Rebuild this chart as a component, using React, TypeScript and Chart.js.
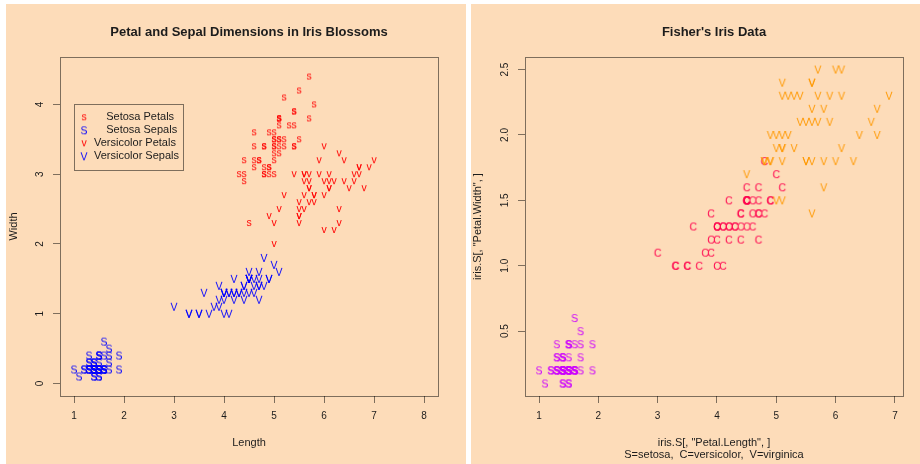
import React, { useEffect, useRef } from "react";
import { Chart, registerables } from "chart.js";

Chart.register(...registerables);

// ---------------- Data: Fisher's iris ----------------
const setosaSepalLength = [
  5.1, 4.9, 4.7, 4.6, 5.0, 5.4, 4.6, 5.0, 4.4, 4.9,
  5.4, 4.8, 4.8, 4.3, 5.8, 5.7, 5.4, 5.1, 5.7, 5.1,
  5.4, 5.1, 4.6, 5.1, 4.8, 5.0, 5.0, 5.2, 5.2, 4.7,
  4.8, 5.4, 5.2, 5.5, 4.9, 5.0, 5.5, 4.9, 4.4, 5.1,
  5.0, 4.5, 4.4, 5.0, 5.1, 4.8, 5.1, 4.6, 5.3, 5.0,
];
const setosaSepalWidth = [
  3.5, 3.0, 3.2, 3.1, 3.6, 3.9, 3.4, 3.4, 2.9, 3.1,
  3.7, 3.4, 3.0, 3.0, 4.0, 4.4, 3.9, 3.5, 3.8, 3.8,
  3.4, 3.7, 3.6, 3.3, 3.4, 3.0, 3.4, 3.5, 3.4, 3.2,
  3.1, 3.4, 4.1, 4.2, 3.1, 3.2, 3.5, 3.6, 3.0, 3.4,
  3.5, 2.3, 3.2, 3.5, 3.8, 3.0, 3.8, 3.2, 3.7, 3.3,
];
const setosaPetalLength = [
  1.4, 1.4, 1.3, 1.5, 1.4, 1.7, 1.4, 1.5, 1.4, 1.5,
  1.5, 1.6, 1.4, 1.1, 1.2, 1.5, 1.3, 1.4, 1.7, 1.5,
  1.7, 1.5, 1.0, 1.7, 1.9, 1.6, 1.6, 1.5, 1.4, 1.6,
  1.6, 1.5, 1.5, 1.4, 1.5, 1.2, 1.3, 1.4, 1.3, 1.5,
  1.3, 1.3, 1.3, 1.6, 1.9, 1.4, 1.6, 1.4, 1.5, 1.4,
];
const setosaPetalWidth = [
  0.2, 0.2, 0.2, 0.2, 0.2, 0.4, 0.3, 0.2, 0.2, 0.1,
  0.2, 0.2, 0.1, 0.1, 0.2, 0.4, 0.4, 0.3, 0.3, 0.3,
  0.2, 0.4, 0.2, 0.5, 0.2, 0.2, 0.4, 0.2, 0.2, 0.2,
  0.2, 0.4, 0.1, 0.2, 0.2, 0.2, 0.2, 0.1, 0.2, 0.2,
  0.3, 0.3, 0.2, 0.6, 0.4, 0.3, 0.2, 0.2, 0.2, 0.2,
];

const versicolorSepalLength = [
  7.0, 6.4, 6.9, 5.5, 6.5, 5.7, 6.3, 4.9, 6.6, 5.2,
  5.0, 5.9, 6.0, 6.1, 5.6, 6.7, 5.6, 5.8, 6.2, 5.6,
  5.9, 6.1, 6.3, 6.1, 6.4, 6.6, 6.8, 6.7, 6.0, 5.7,
  5.5, 5.5, 5.8, 6.0, 5.4, 6.0, 6.7, 6.3, 5.6, 5.5,
  5.5, 6.1, 5.8, 5.0, 5.6, 5.7, 5.7, 6.2, 5.1, 5.7,
];
const versicolorSepalWidth = [
  3.2, 3.2, 3.1, 2.3, 2.8, 2.8, 3.3, 2.4, 2.9, 2.7,
  2.0, 3.0, 2.2, 2.9, 2.9, 3.1, 3.0, 2.7, 2.2, 2.5,
  3.2, 2.8, 2.5, 2.8, 2.9, 3.0, 2.8, 3.0, 2.9, 2.6,
  2.4, 2.4, 2.7, 2.7, 3.0, 3.4, 3.1, 2.3, 3.0, 2.5,
  2.6, 3.0, 2.6, 2.3, 2.7, 3.0, 2.9, 2.9, 2.5, 2.8,
];
const versicolorPetalLength = [
  4.7, 4.5, 4.9, 4.0, 4.6, 4.5, 4.7, 3.3, 4.6, 3.9,
  3.5, 4.2, 4.0, 4.7, 3.6, 4.4, 4.5, 4.1, 4.5, 3.9,
  4.8, 4.0, 4.9, 4.7, 4.3, 4.4, 4.8, 5.0, 4.5, 3.5,
  3.8, 3.7, 3.9, 5.1, 4.5, 4.5, 4.7, 4.4, 4.1, 4.0,
  4.4, 4.6, 4.0, 3.3, 4.2, 4.2, 4.2, 4.3, 3.0, 4.1,
];
const versicolorPetalWidth = [
  1.4, 1.5, 1.5, 1.3, 1.5, 1.3, 1.6, 1.0, 1.3, 1.4,
  1.0, 1.5, 1.0, 1.4, 1.3, 1.4, 1.5, 1.0, 1.5, 1.1,
  1.8, 1.3, 1.5, 1.2, 1.3, 1.4, 1.4, 1.7, 1.5, 1.0,
  1.1, 1.0, 1.2, 1.6, 1.5, 1.6, 1.5, 1.3, 1.3, 1.3,
  1.2, 1.4, 1.2, 1.0, 1.3, 1.2, 1.3, 1.3, 1.1, 1.3,
];

const virginicaPetalLength = [
  6.0, 5.1, 5.9, 5.6, 5.8, 6.6, 4.5, 6.3, 5.8, 6.1,
  5.1, 5.3, 5.5, 5.0, 5.1, 5.3, 5.5, 6.7, 6.9, 5.0,
  5.7, 4.9, 6.7, 4.9, 5.7, 6.0, 4.8, 4.9, 5.6, 5.8,
  6.1, 6.4, 5.6, 5.1, 5.6, 6.1, 5.6, 5.5, 4.8, 5.4,
  5.6, 5.1, 5.1, 5.9, 5.7, 5.2, 5.0, 5.2, 5.4, 5.1,
];
const virginicaPetalWidth = [
  2.5, 1.9, 2.1, 1.8, 2.2, 2.1, 1.7, 1.8, 1.8, 2.5,
  2.0, 1.9, 2.1, 2.0, 2.4, 2.3, 1.8, 2.2, 2.3, 1.5,
  2.3, 2.0, 2.0, 1.8, 2.1, 1.8, 1.8, 1.8, 2.1, 1.6,
  1.9, 2.0, 2.2, 1.5, 1.4, 2.3, 2.4, 1.8, 1.8, 2.1,
  2.4, 2.3, 1.9, 2.3, 2.5, 2.3, 1.9, 2.0, 2.3, 1.8,
];

// ---------------- Axes / labels ----------------
const leftXLimits = [0.72, 8.28];
const leftYLimits = [-0.18, 4.68];
const leftXTicks = [1, 2, 3, 4, 5, 6, 7, 8];
const leftYTicks = [0, 1, 2, 3, 4];
const leftYTickLabels = ["0", "1", "2", "3", "4"];

const rightXLimits = [0.764, 7.136];
const rightYLimits = [0.004, 2.596];
const rightXTicks = [1, 2, 3, 4, 5, 6, 7];
const rightYTicks = [0.5, 1.0, 1.5, 2.0, 2.5];
const rightYTickLabels = ["0.5", "1.0", "1.5", "2.0", "2.5"];

const legendPosition = [1, 4];
const legendLabels = ["    Setosa Petals", "    Setosa Sepals", "Versicolor Petals", "Versicolor Sepals"];
const legendSymbols = ["s", "S", "v", "V"];

// ---------------- Styles ----------------
const FONT = '"Liberation Sans", Arial, Helvetica, sans-serif';
const BG = "#fddcb9";
const INK = "#1c1c1c";
const FRAME = "rgba(0,0,0,0.5)";
const RED = "#ff0000";
const BLUE = "#0000ff";
const S_COL = "#cc00ff";
const C_COL = "#ff004d";
const V_COL = "#ff9900";
const legendColors = [RED, BLUE, RED, BLUE];
const GLYPH_SIZE = 10.5;

function glyph(ch: string, color: string, size = GLYPH_SIZE): HTMLCanvasElement {
  const c = document.createElement("canvas");
  c.width = 16;
  c.height = 16;
  const g = c.getContext("2d")!;
  g.font = `${size}px ${FONT}`;
  g.fillStyle = color;
  g.textAlign = "center";
  g.textBaseline = "alphabetic";
  const m = g.measureText(ch);
  const asc = m.actualBoundingBoxAscent;
  const desc = m.actualBoundingBoxDescent;
  g.fillText(ch, 8, 8 + (asc - desc) / 2);
  return c;
}

function pts(xs: number[], ys: number[]) {
  return xs.map((v, i) => ({ x: v, y: ys[i] }));
}

const decor = {
  id: "decor",
  beforeDraw(chart: any) {
    const ctx = chart.ctx;
    ctx.save();
    ctx.fillStyle = BG;
    ctx.fillRect(0, 0, chart.width, chart.height);
    ctx.restore();
  },
  afterDraw(chart: any, _a: any, opts: any) {
    const ctx = chart.ctx as CanvasRenderingContext2D;
    const ca = chart.chartArea;
    const xs = chart.scales.x;
    const ys = chart.scales.y;
    ctx.save();
    // frame
    ctx.strokeStyle = FRAME;
    ctx.lineWidth = 1;
    const l = Math.round(ca.left), t = Math.round(ca.top);
    const r = Math.round(ca.right), b = Math.round(ca.bottom);
    ctx.strokeRect(l + 0.5, t + 0.5, r - l, b - t);

    const cx = (ca.left + ca.right) / 2;
    ctx.fillStyle = INK;
    ctx.textAlign = "center";
    ctx.textBaseline = "middle";
    // title
    ctx.font = `bold 13px ${FONT}`;
    ctx.fillText(opts.title, cx, opts.titleY);
    // x title
    ctx.font = `11px ${FONT}`;
    (opts.xTitle as string[]).forEach((s, i) => ctx.fillText(s, cx, opts.xTitleY + i * 12));
    // y title
    ctx.save();
    ctx.translate(opts.yTitleX, (ca.top + ca.bottom) / 2);
    ctx.rotate(-Math.PI / 2);
    ctx.fillText(opts.yTitle, 0, 0);
    ctx.restore();
    // y tick labels (rotated like R)
    ctx.font = `10px ${FONT}`;
    ys.ticks.forEach((tk: any) => {
      const py = ys.getPixelForValue(tk.value);
      ctx.save();
      ctx.translate(ca.left - 20, py);
      ctx.rotate(-Math.PI / 2);
      ctx.fillText(String(tk.label), 0, 0);
      ctx.restore();
    });
    // legend
    if (opts.legend) {
      const lg = opts.legend;
      const x0 = Math.round(xs.getPixelForValue(lg.at[0]));
      const y0 = Math.round(ys.getPixelForValue(lg.at[1]));
      ctx.font = `11px ${FONT}`;
      const tw = Math.max(...lg.labels.map((s: string) => ctx.measureText(s).width));
      const w = Math.round(20 + tw + 4.5);
      const h = 66;
      ctx.fillStyle = BG;
      ctx.fillRect(x0, y0, w, h);
      ctx.strokeStyle = FRAME;
      ctx.strokeRect(x0 + 0.5, y0 + 0.5, w, h);
      lg.labels.forEach((s: string, i: number) => {
        const ry = y0 + 13.3 + i * 13;
        const gl = lg.glyphs[i] as HTMLCanvasElement;
        ctx.drawImage(gl, x0 + 10 - gl.width / 2, ry - gl.height / 2);
        ctx.fillStyle = INK;
        ctx.textAlign = "left";
        ctx.textBaseline = "middle";
        ctx.fillText(s, x0 + 20, ry);
      });
    }
    ctx.restore();
  },
};

function scales(xLim: number[], yLim: number[], xTicks: number[], yTicks: number[], yLabels: string[]) {
  return {
    x: {
      type: "linear",
      min: xLim[0],
      max: xLim[1],
      afterBuildTicks: (s: any) => {
        s.ticks = xTicks.map((v) => ({ value: v }));
      },
      afterFit: (s: any) => {
        s.height = 68;
      },
      grid: { drawOnChartArea: false, drawTicks: true, tickLength: 7, color: FRAME, lineWidth: 1 },
      border: { display: false },
      ticks: {
        color: INK,
        font: { family: FONT, size: 10 },
        padding: 7,
        maxRotation: 0,
        autoSkip: false,
        callback: (v: any) => String(v),
      },
    },
    y: {
      type: "linear",
      min: yLim[0],
      max: yLim[1],
      afterBuildTicks: (s: any) => {
        s.ticks = yTicks.map((v) => ({ value: v }));
      },
      afterFit: (s: any) => {
        s.width = 54;
      },
      grid: { drawOnChartArea: false, drawTicks: true, tickLength: 7, color: FRAME, lineWidth: 1 },
      border: { display: false },
      ticks: {
        display: false,
        autoSkip: false,
        callback: (_v: any, i: number) => yLabels[i],
      },
    },
  };
}

function ds(data: any[], style: HTMLCanvasElement, order: number) {
  return { data, pointStyle: style, pointRadius: 3, order, showLine: false };
}

function Panel({ which }: { which: "left" | "right" }) {
  const ref = useRef<HTMLCanvasElement>(null);
  useEffect(() => {
    if (!ref.current) return;
    let datasets: any[];
    let decorOpts: any;
    let sc: any;
    if (which === "left") {
      datasets = [
        ds(pts(setosaSepalLength, setosaSepalWidth), glyph("s", RED), 4),
        ds(pts(setosaPetalLength, setosaPetalWidth), glyph("S", BLUE), 3),
        ds(pts(versicolorSepalLength, versicolorSepalWidth), glyph("v", RED), 2),
        ds(pts(versicolorPetalLength, versicolorPetalWidth), glyph("V", BLUE), 1),
      ];
      sc = scales(leftXLimits, leftYLimits, leftXTicks, leftYTicks, leftYTickLabels);
      decorOpts = {
        title: "Petal and Sepal Dimensions in Iris Blossoms",
        titleY: 28,
        xTitle: ["Length"],
        xTitleY: 439,
        yTitle: "Width",
        yTitleX: 8,
        legend: {
          at: legendPosition,
          labels: legendLabels,
          glyphs: legendSymbols.map((c, i) => glyph(c, legendColors[i])),
        },
      };
    } else {
      datasets = [
        ds(pts(setosaPetalLength, setosaPetalWidth), glyph("S", S_COL), 3),
        ds(pts(versicolorPetalLength, versicolorPetalWidth), glyph("C", C_COL), 2),
        ds(pts(virginicaPetalLength, virginicaPetalWidth), glyph("V", V_COL), 1),
      ];
      sc = scales(rightXLimits, rightYLimits, rightXTicks, rightYTicks, rightYTickLabels);
      decorOpts = {
        title: "Fisher's Iris Data",
        titleY: 28,
        xTitle: ['iris.S[, "Petal.Length", ]', "S=setosa,  C=versicolor,  V=virginica"],
        xTitleY: 439,
        yTitle: 'iris.S[, "Petal.Width", ]',
        yTitleX: 7,
      };
    }
    const chart = new Chart(ref.current, {
      type: "scatter",
      data: { datasets },
      options: {
        responsive: false,
        animation: false,
        devicePixelRatio: 1,
        events: [],
        layout: { padding: { left: 0, right: 28, top: 53, bottom: 0 } },
        scales: sc,
        plugins: {
          legend: { display: false },
          tooltip: { enabled: false },
          title: { display: false },
          decor: decorOpts,
        } as any,
      } as any,
      plugins: [decor as any],
    } as any);
    return () => chart.destroy();
  }, [which]);
  return <canvas ref={ref} width={460} height={460} style={{ display: "block", width: 460, height: 460 }} />;
}

export default function App() {
  return (
    <div
      style={{
        position: "absolute",
        left: 0,
        top: 0,
        width: 920,
        height: 464,
        overflow: "hidden",
        background: "#ffffff",
      }}
    >
      <div style={{ position: "absolute", left: 6, top: 4 }}>
        <Panel which="left" />
      </div>
      <div style={{ position: "absolute", left: 471, top: 4 }}>
        <Panel which="right" />
      </div>
    </div>
  );
}
